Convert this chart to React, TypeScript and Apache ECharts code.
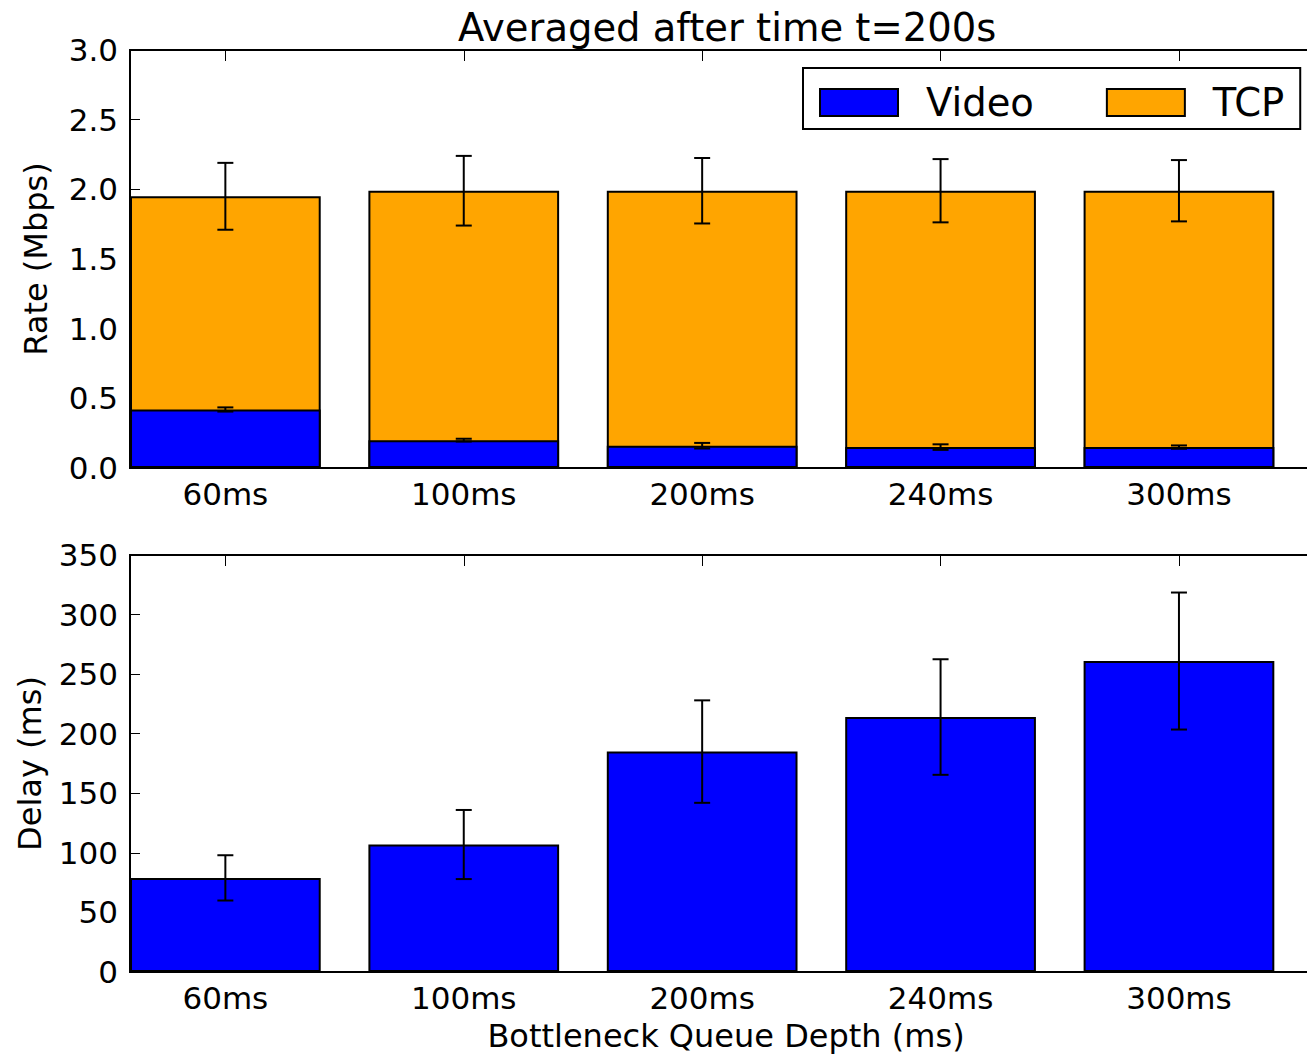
import React, { useEffect, useRef } from "react";
import * as echarts from "echarts";

const categories = ["60ms", "100ms", "200ms", "240ms", "300ms"];
const videoRate = [0.42, 0.2, 0.16, 0.15, 0.15];
const videoRateErr = [0.015, 0.01, 0.02, 0.02, 0.012];
const tcpRate = [1.53, 1.79, 1.83, 1.84, 1.84];
const totalRateErr = [0.24, 0.25, 0.235, 0.227, 0.22];
const delay = [79, 107, 185, 214, 261];
const delayErr = [19, 29, 43, 48.5, 57.5];
const rateTicks = [0, 0.5, 1.0, 1.5, 2.0, 2.5, 3.0];
const delayTicks = [0, 50, 100, 150, 200, 250, 300, 350];

const FONT = "DejaVu Sans";
const positions = categories.map((_, i) => i);

function errRender(params: any, api: any) {
  const x = api.value(0);
  const lo = api.value(1);
  const hi = api.value(2);
  const top = api.coord([x, hi]);
  const bot = api.coord([x, lo]);
  const hw = 8;
  const st = { stroke: "#000", lineWidth: 2 };
  return {
    type: "group",
    children: [
      { type: "line", shape: { x1: top[0], y1: top[1], x2: bot[0], y2: bot[1] }, style: st },
      { type: "line", shape: { x1: top[0] - hw, y1: top[1], x2: top[0] + hw, y2: top[1] }, style: st },
      { type: "line", shape: { x1: bot[0] - hw, y1: bot[1], x2: bot[0] + hw, y2: bot[1] }, style: st },
    ],
  };
}

export default function App() {
  const ref = useRef<HTMLDivElement>(null);
  useEffect(() => {
    if (!ref.current) return;
    const chart = echarts.init(ref.current, null, { renderer: "svg" });
    const labelStyle = { fontFamily: FONT, fontSize: 31, color: "#000" };
    const nameStyle = { fontFamily: FONT, fontSize: 32, color: "#000" };
    const xBase = (gridIndex: number, showLabel: boolean, name?: string) => ({
      type: "value",
      gridIndex,
      position: "bottom",
      min: -0.4,
      max: 4.6,
      splitLine: { show: false },
      axisLine: { show: false, onZero: false },
      axisTick: { show: true, inside: true, length: 11, customValues: positions, lineStyle: { color: "#000", width: 1 } },
      axisLabel: {
        show: showLabel,
        customValues: positions,
        formatter: (v: number) => categories[Math.round(v)] ?? "",
        ...labelStyle,
        margin: 10,
      },
      name: name,
      nameLocation: "middle",
      nameGap: 48,
      nameTextStyle: nameStyle,
    });
    const xTop = (gridIndex: number) => ({
      type: "value",
      gridIndex,
      position: "top",
      min: -0.4,
      max: 4.6,
      splitLine: { show: false },
      axisLine: { show: false, onZero: false },
      axisTick: { show: true, inside: true, length: 11, customValues: positions, lineStyle: { color: "#000", width: 1 } },
      axisLabel: { show: false },
    });
    const yBase = (gridIndex: number, ticks: number[], interval: number, name: string, nameGap: number, fmt?: (v: number) => string) => ({
      type: "value",
      gridIndex,
      position: "left",
      min: ticks[0],
      max: ticks[ticks.length - 1],
      interval,
      splitLine: { show: false },
      axisLine: { show: false, onZero: false },
      axisTick: { show: true, inside: true, length: 10, lineStyle: { color: "#000", width: 1 } },
      axisLabel: { ...labelStyle, margin: 12, formatter: fmt },
      name,
      nameLocation: "middle",
      nameGap,
      nameTextStyle: nameStyle,
    });
    const gridCommon = {
      left: 130,
      width: 1192,
      show: true,
      borderColor: "#000",
      borderWidth: 2,
      backgroundColor: "transparent",
      containLabel: false,
      outerBoundsMode: "none",
    };
    const option: any = {
      animation: false,
      backgroundColor: "#fff",
      textStyle: { fontFamily: FONT },
      title: {
        text: "Averaged after time t=200s",
        left: 453,
        top: 3,
        textStyle: { fontFamily: FONT, fontSize: 38.5, fontWeight: "normal", color: "#000" },
      },
      legend: {
        data: ["Video", "TCP"],
        left: 803,
        top: 68,
        orient: "horizontal",
        padding: [15, 16, 7, 16],
        itemWidth: 78,
        itemHeight: 27,
        itemGap: 72,
        borderColor: "#000",
        borderWidth: 2,
        borderRadius: 0,
        icon: "rect",
        itemStyle: { borderColor: "#000", borderWidth: 2 },
        textStyle: { fontFamily: FONT, fontSize: 38.5, color: "#000", padding: [0, 0, 0, 23], lineHeight: 30 },
      },
      grid: [
        { ...gridCommon, top: 50, height: 418 },
        { ...gridCommon, top: 555, height: 417 },
      ],
      xAxis: [xBase(0, true), xTop(0), xBase(1, true, "Bottleneck Queue Depth (ms)"), xTop(1)],
      yAxis: [
        yBase(0, rateTicks, 0.5, "Rate (Mbps)", 78, (v: number) => v.toFixed(1)),
        yBase(1, delayTicks, 50, "Delay (ms)", 84),
      ],
      series: [
        {
          name: "TCP",
          type: "bar",
          xAxisIndex: 0,
          yAxisIndex: 0,
          z: 2,
          barWidth: "80%",
          barGap: "-100%",
          itemStyle: { color: "#ffa500", borderColor: "#000", borderWidth: 2 },
          // TCP stacked on top of Video: bar top = Video + TCP
          data: positions.map((p, i) => [p, videoRate[i] + tcpRate[i]]),
        },
        {
          name: "Video",
          type: "bar",
          xAxisIndex: 0,
          yAxisIndex: 0,
          z: 3,
          barWidth: "80%",
          barGap: "-100%",
          itemStyle: { color: "#0000ff", borderColor: "#000", borderWidth: 2 },
          data: positions.map((p, i) => [p, videoRate[i]]),
        },
        {
          name: "VideoErr",
          type: "custom",
          xAxisIndex: 0,
          yAxisIndex: 0,
          z: 10,
          renderItem: errRender,
          encode: { x: 0, y: [1, 2] },
          data: positions.map((p, i) => [p, videoRate[i] - videoRateErr[i], videoRate[i] + videoRateErr[i]]),
        },
        {
          name: "TotalErr",
          type: "custom",
          xAxisIndex: 0,
          yAxisIndex: 0,
          z: 10,
          renderItem: errRender,
          encode: { x: 0, y: [1, 2] },
          data: positions.map((p, i) => {
            const t = videoRate[i] + tcpRate[i];
            return [p, t - totalRateErr[i], t + totalRateErr[i]];
          }),
        },
        {
          name: "Delay",
          type: "bar",
          xAxisIndex: 2,
          yAxisIndex: 1,
          barWidth: "80%",
          itemStyle: { color: "#0000ff", borderColor: "#000", borderWidth: 2 },
          data: positions.map((p, i) => [p, delay[i]]),
        },
        {
          name: "DelayErr",
          type: "custom",
          xAxisIndex: 2,
          yAxisIndex: 1,
          z: 10,
          renderItem: errRender,
          encode: { x: 0, y: [1, 2] },
          data: positions.map((p, i) => [p, delay[i] - delayErr[i], delay[i] + delayErr[i]]),
        },
      ],
    };
    chart.setOption(option);
    return () => chart.dispose();
  }, []);
  return (
    <div
      ref={ref}
      style={{ position: "absolute", left: 0, top: 0, width: 1307, height: 1055, overflow: "hidden" }}
    />
  );
}
